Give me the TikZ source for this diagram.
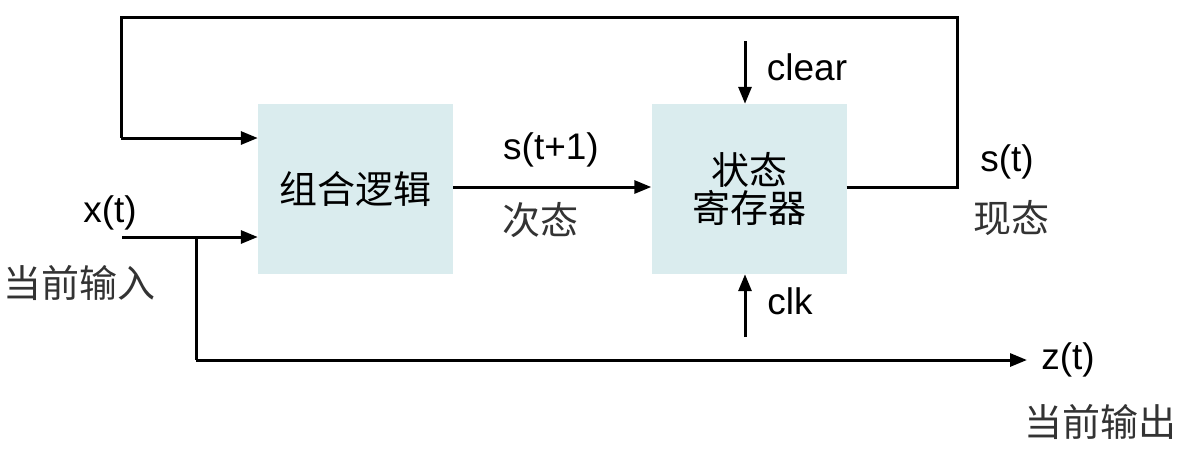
\documentclass[tikz,border=0pt]{standalone}
\usepackage{fontspec}
\setmainfont{Liberation Sans}
\newfontfamily\cjk{Noto Sans CJK SC}
\usetikzlibrary{arrows.meta}
\begin{document}
\begin{tikzpicture}[x=1pt,y=-1pt,
  blk/.style={fill=boxblue,draw=none,minimum width=195pt,minimum height=170pt,inner sep=0pt,align=center,font=\cjk\fontsize{38}{44}\selectfont},
  lbl/.style={inner sep=0pt,font=\fontsize{37}{44}\selectfont},
  clbl/.style={inner sep=0pt,font=\cjk\fontsize{38}{44}\selectfont,text=black!80},
  wire/.style={line width=3pt},
  arr/.style={line width=3pt,-{Triangle[length=17pt,width=13pt]}}]
\definecolor{boxblue}{HTML}{DAECEE}
\useasboundingbox (0,0) rectangle (1183,451);
\node[blk] (cl) at (355.5,189) {组合逻辑};
\node[blk] (sr) at (749,189) {状态\\[-6pt]寄存器};
\coordinate (fbR) at (957,187);
\coordinate (fbTR) at (957,17);
\coordinate (fbTL) at (121,17);
\coordinate (fbBL) at (121,138);
\coordinate (xin) at (122,237);
\coordinate (br) at (196,237);
\coordinate (brD) at (196,360);
\coordinate (zout) at (1027,360);
\coordinate (clr) at (745,41);
\coordinate (clk) at (745,337);
\draw[wire] (sr.east |- fbR) -- (fbR) -- (fbTR) -- (fbTL) -- (fbBL);
\draw[arr] (fbBL) -- (cl.west |- fbBL);
\draw[arr] (xin) -- (cl.west |- xin);
\draw[wire] (br) -- (brD);
\draw[arr] (brD) -- (zout);
\draw[arr] (cl.east |- fbR) -- (sr.west |- fbR);
\draw[arr] (clr) -- (sr.north -| clr);
\draw[arr] (clk) -- (sr.south -| clk);
\node[lbl] (xt) at (110,213) {x(t)};
\node[clbl] (xcn) at (79,283) {当前输入};
\node[lbl] (st1) at (551,150) {s(t+1)};
\node[clbl] (ncn) at (540,220) {次态};
\node[lbl] (clear) at (807,67) {clear};
\node[lbl] (clkl) at (790,301) {clk};
\node[lbl] (st) at (1007,162) {s(t)};
\node[clbl] (pcn) at (1011,218) {现态};
\node[lbl] (zt) at (1068,360) {z(t)};
\node[clbl] (zcn) at (1100,422) {当前输出};
\end{tikzpicture}
\end{document}
